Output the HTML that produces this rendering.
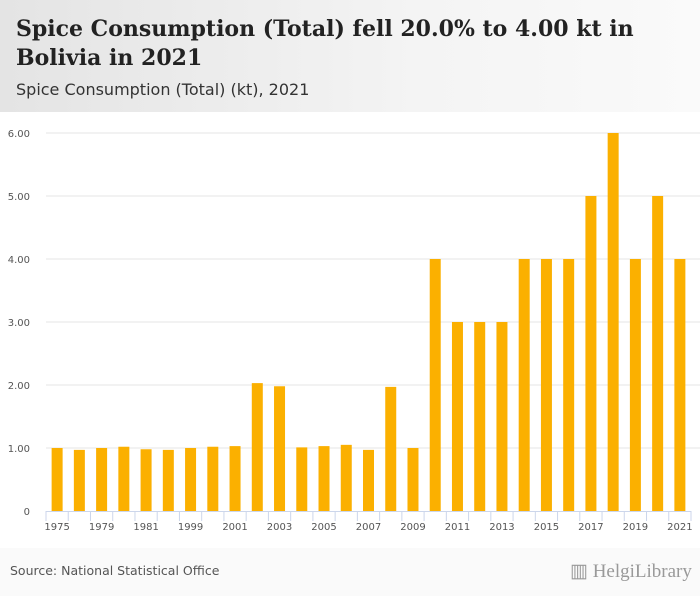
<!DOCTYPE html>
<html><head><meta charset="utf-8"><style>
html,body{margin:0;width:700px;height:596px;overflow:hidden}
body{background:#fafafa;font-family:"Liberation Sans",sans-serif;position:relative}
#hdr{position:absolute;left:0;top:0;width:700px;height:112px;background:linear-gradient(90deg,#e4e4e4,#f4f4f4 60%,#fafafa)}
#title{position:absolute;left:16px;top:15px;font-family:"DejaVu Serif","Liberation Serif",serif;font-weight:bold;font-size:22px;line-height:29px;color:#222;width:670px}
#sub{position:absolute;left:16px;top:80px;font-family:"DejaVu Sans",sans-serif;font-size:16px;color:#333;white-space:nowrap}
#src{position:absolute;left:10px;top:563px;font-family:"DejaVu Sans",sans-serif;font-size:12.5px;color:#555;white-space:nowrap}
#logo{position:absolute;left:570px;top:560px;font-family:"Liberation Serif",serif;font-size:19px;color:#999;white-space:nowrap}
svg{position:absolute;left:0;top:0}
</style></head><body>
<div id="hdr"></div>
<div id="title">Spice Consumption (Total) fell 20.0% to 4.00 kt in Bolivia in 2021</div>
<div id="sub">Spice Consumption (Total) (kt), 2021</div>
<svg id="chart" width="700" height="596"></svg>
<div id="src">Source: National Statistical Office</div>
<div id="logo">▥ HelgiLibrary</div>
<script>
const categories=["1975","1977","1979","1980","1981","1990","1999","2000","2001","2002","2003","2004","2005","2006","2007","2008","2009","2010","2011","2012","2013","2014","2015","2016","2017","2018","2019","2020","2021"];
const values=[1.0,0.97,1.0,1.02,0.98,0.97,1.0,1.02,1.03,2.03,1.98,1.01,1.03,1.05,0.97,1.97,1.0,4,3,3,3,4,4,4,5,6,4,5,4];
const yTicks=[0,1,2,3,4,5,6];
const yTickLabels=["0","1.00","2.00","3.00","4.00","5.00","6.00"];
const svg=document.getElementById('chart');const NS='http://www.w3.org/2000/svg';
const x0=46,x1=691,yb=511,yt=133,ymax=6;
const bw=(x1-x0)/categories.length;
const y=v=>yb-(v/ymax)*(yb-yt);
const xc=i=>x0+(i+0.5)*bw;
function mk(t,a){const e=document.createElementNS(NS,t);for(const k in a)e.setAttribute(k,a[k]);svg.appendChild(e);return e;}
mk('rect',{x:0,y:112,width:700,height:436,fill:'#fff'});
yTicks.forEach((v,i)=>{
 if(v>0){const g=mk('line',{x1:x0,x2:x1+9,y1:y(v),y2:y(v),stroke:'#e6e6e6'});
 
 }
 const t=mk('text',{x:30,y:y(v)+4,'text-anchor':'end','font-size':10,fill:'#555','font-family':'DejaVu Sans,sans-serif'});
 t.textContent=yTickLabels[i];
 
 
});
values.forEach((v,i)=>{
 const r=mk('rect',{x:xc(i)-5.5,y:y(v),width:11,height:yb-y(v),fill:'#fbb000'});
 
 
});
const ax=mk('line',{x1:x0,x2:x1,y1:yb+0.5,y2:yb+0.5,stroke:'#ccd6eb'});


for(let i=0;i<=categories.length;i++){mk('line',{x1:x0+i*bw,x2:x0+i*bw,y1:yb,y2:yb+10,stroke:'#ccd6eb'});}
categories.forEach((c,i)=>{if(i%2)return;
 const t=mk('text',{x:xc(i),y:yb+19,'text-anchor':'middle','font-size':10,fill:'#555','font-family':'DejaVu Sans,sans-serif'});
 t.textContent=c;
 
 
});
</script>
</body></html>
